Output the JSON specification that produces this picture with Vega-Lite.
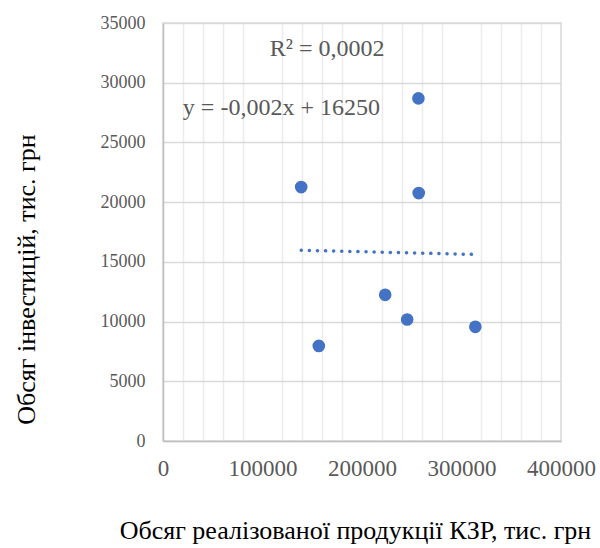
{
  "$schema": "https://vega.github.io/schema/vega-lite/v6.json",
  "autosize": "none",
  "width": 398,
  "height": 418,
  "padding": {"left": 163, "top": 23, "right": 39, "bottom": 107},
  "background": "white",
  "config": {
    "view": {"stroke": "#d9d9d9", "strokeWidth": 1.5},
    "font": "Liberation Serif"
  },
  "datasets": {
    "points": [
      {"x": 138900, "y": 21260},
      {"x": 156600, "y": 7960},
      {"x": 223300, "y": 12240},
      {"x": 245400, "y": 10170},
      {"x": 256700, "y": 28690},
      {"x": 257000, "y": 20760},
      {"x": 313900, "y": 9560}
    ],
    "trend": [
      {"x": 138900, "y": 15972},
      {"x": 313900, "y": 15622}
    ],
    "labels": [
      {"x": 165000, "y": 32800, "t": "R² = 0,0002"},
      {"x": 119000, "y": 27850, "t": "y = -0,002x + 16250"}
    ]
  },
  "layer": [
    {
      "data": {"name": "points"},
      "mark": {"type": "point", "opacity": 0},
      "encoding": {
        "x": {"field": "x", "type": "quantitative", "scale": {"domain": [0, 400000]},
          "axis": {"orient": "bottom", "values": [20000, 40000, 60000, 80000, 120000, 140000, 160000, 180000, 220000, 240000, 260000, 280000, 320000, 340000, 360000, 380000], "gridColor": "#ececec", "gridWidth": 1.5, "labels": false, "ticks": false, "domain": false, "title": null}},
        "y": {"field": "y", "type": "quantitative", "scale": {"domain": [0, 35000]},
          "axis": {"values": [0, 5000, 10000, 15000, 20000, 25000, 30000, 35000], "format": "d", "gridColor": "#d9d9d9", "gridWidth": 1.5, "labelFontSize": 18, "labelColor": "#595959", "labelFont": "Liberation Serif", "labelPadding": 18, "ticks": false, "domainColor": "#bfbfbf", "domainWidth": 1.5, "title": "Обсяг інвестицій, тис. грн", "titleFont": "Liberation Serif", "titleFontSize": 26, "titleFontWeight": "normal", "titleColor": "#000000", "titleX": -124, "titleY": 256}}
      }
    },
    {
      "data": {"name": "points"},
      "mark": {"type": "point", "opacity": 0},
      "encoding": {
        "x": {"field": "x", "type": "quantitative", "scale": {"domain": [0, 400000]},
          "axis": {"orient": "bottom", "values": [0, 100000, 200000, 300000, 400000], "format": "d", "gridColor": "#d9d9d9", "gridWidth": 1.5, "labelFontSize": 23, "labelColor": "#595959", "labelFont": "Liberation Serif", "labelPadding": 16, "ticks": false, "domainColor": "#bfbfbf", "domainWidth": 1.5, "labelFlush": false, "title": "Обсяг реалізованої продукції КЗР, тис. грн", "titleFont": "Liberation Serif", "titleFontSize": 26, "titleFontWeight": "normal", "titleColor": "#000000", "titleX": 192, "titleY": 76}},
        "y": {"field": "y", "type": "quantitative", "scale": {"domain": [0, 35000]}, "axis": null}
      }
    },
    {
      "data": {"name": "trend"},
      "mark": {"type": "line", "color": "#4472C4", "strokeWidth": 3.5, "strokeDash": [0.1, 8], "strokeCap": "round"},
      "encoding": {
        "x": {"field": "x", "type": "quantitative", "scale": {"domain": [0, 400000]}, "axis": null},
        "y": {"field": "y", "type": "quantitative", "scale": {"domain": [0, 35000]}, "axis": null}
      }
    },
    {
      "data": {"name": "points"},
      "mark": {"type": "circle", "color": "#4472C4", "opacity": 1, "size": 160},
      "encoding": {
        "x": {"field": "x", "type": "quantitative", "scale": {"domain": [0, 400000]}, "axis": null},
        "y": {"field": "y", "type": "quantitative", "scale": {"domain": [0, 35000]}, "axis": null}
      }
    },
    {
      "data": {"name": "labels"},
      "mark": {"type": "text", "font": "Liberation Serif", "fontSize": 24, "color": "#595959", "align": "center", "baseline": "middle"},
      "encoding": {
        "x": {"field": "x", "type": "quantitative", "scale": {"domain": [0, 400000]}, "axis": null},
        "y": {"field": "y", "type": "quantitative", "scale": {"domain": [0, 35000]}, "axis": null},
        "text": {"field": "t"}
      }
    }
  ],
  "resolve": {"axis": {"x": "independent", "y": "independent"}}
}
